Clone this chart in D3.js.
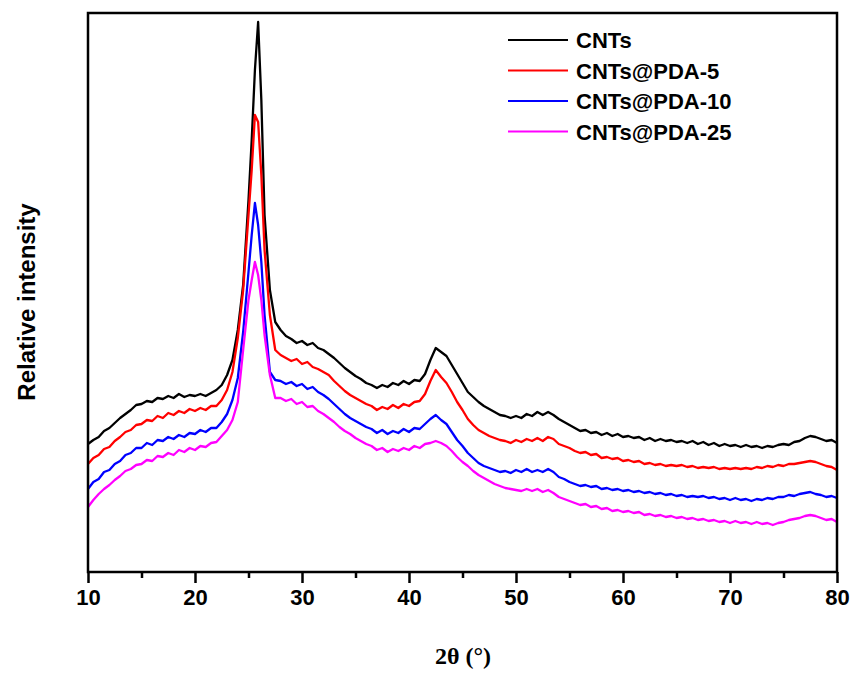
<html>
<head>
    <script src="https://d3js.org/d3.v7.min.js"></script>
    <style>
        body { margin: 0; background: #ffffff; }
        svg { display: block; }
    </style>
</head>
<body>
<svg id="chart"></svg>
<script>

    /* 2theta grid of the scans (degrees) */
    var angles = [10, 10.5, 11, 11.5, 12, 12.5, 13, 13.5, 14, 14.5, 15, 15.5, 16, 16.5, 17, 17.5, 18, 18.5, 19, 19.5,
        20, 20.5, 21, 21.5, 22, 22.5, 23, 23.5, 24, 24.5,
        25, 25.3, 25.6, 25.9, 26.2, 26.5,
        27, 27.5, 28, 28.5, 29, 29.5, 30, 30.5, 31, 31.5, 32, 32.5, 33, 33.5, 34, 34.5, 35, 35.5, 36, 36.5, 37, 37.5,
        38, 38.5, 39, 39.5, 40, 40.5, 41, 41.5, 42, 42.5, 43, 43.5, 44, 44.5, 45, 45.5, 46, 46.5, 47, 47.5,
        48, 48.5, 49, 49.5, 50, 50.5, 51, 51.5, 52, 52.5, 53, 53.5, 54, 54.5, 55, 55.5, 56, 56.5, 57, 57.5,
        58, 58.5, 59, 59.5, 60, 60.5, 61, 61.5, 62, 62.5, 63, 63.5, 64, 64.5, 65, 65.5, 66, 66.5, 67, 67.5,
        68, 68.5, 69, 69.5, 70, 70.5, 71, 71.5, 72, 72.5, 73, 73.5, 74, 74.5, 75, 75.5, 76, 76.5, 77, 77.5,
        78, 78.5, 79, 79.5, 80];

    /* intensidades relativas (ya desplazadas como en la figura) */
    var cnts = [156, 160, 163, 169, 172, 177, 182, 186, 190, 195, 196, 199, 198, 202, 201, 204, 202, 206, 203, 205,
        204, 206, 204, 207, 210, 215, 225, 240, 270, 315,
        400, 460, 530, 578, 500, 385,
        310, 278, 270, 264, 261, 257, 259, 255, 257, 252, 250, 246, 242, 237, 232, 228, 224, 221, 217, 215, 212, 215,
        213, 217, 215, 219, 216, 220, 219, 226, 240, 252, 248, 244, 235, 226, 217, 208, 203, 198, 194, 191,
        188, 185, 184, 182, 184, 182, 186, 184, 188, 185, 188, 185, 181, 178, 175, 172, 169, 170, 167, 168,
        165, 167, 164, 166, 163, 164, 162, 163, 160, 162, 159, 161, 159, 160, 158, 159, 157, 159, 156, 158,
        155, 157, 154, 156, 154, 155, 153, 155, 153, 154, 152, 154, 153, 155, 156, 155, 158, 159, 162, 164,
        163, 161, 159, 160, 157];

    var pda5 = [136, 142, 145, 151, 153, 159, 163, 168, 170, 175, 176, 180, 179, 184, 182, 187, 185, 189, 187, 191,
        189, 192, 190, 194, 194, 200, 210, 228, 262, 310,
        385, 430, 485, 478, 425, 350,
        285, 250, 245, 242, 239, 241, 236, 238, 233, 231, 228, 225, 219, 214, 209, 205, 202, 199, 196, 194, 190, 193,
        191, 195, 192, 196, 194, 198, 199, 206, 219, 230, 223, 217, 208, 198, 190, 181, 175, 170, 167, 164,
        162, 160, 159, 157, 160, 158, 161, 159, 162, 159, 163, 161, 156, 154, 152, 149, 147, 148, 145, 146,
        142, 143, 141, 142, 139, 140, 138, 139, 136, 137, 135, 136, 134, 135, 134, 135, 133, 134, 132, 133,
        132, 133, 131, 132, 131, 132, 131, 132, 131, 133, 132, 134, 133, 135, 134, 136, 136, 137, 138, 139,
        138, 136, 134, 133, 130];

    var pda10 = [111, 118, 121, 128, 130, 136, 139, 145, 147, 152, 152, 157, 155, 160, 159, 163, 161, 165, 163, 167,
        166, 170, 168, 172, 172, 178, 186, 200, 222, 268,
        328, 365, 397, 375, 338, 285,
        228, 220, 219, 216, 218, 214, 216, 211, 213, 208, 205, 201, 196, 191, 186, 182, 179, 176, 173, 171, 167, 170,
        166, 169, 167, 171, 168, 172, 171, 176, 181, 185, 180, 176, 168, 160, 154, 147, 142, 137, 134, 132,
        130, 128, 129, 127, 130, 128, 131, 128, 130, 128, 131, 128, 123, 121, 118, 116, 114, 115, 113, 114,
        111, 112, 110, 111, 109, 110, 108, 109, 107, 108, 106, 107, 105, 106, 104, 105, 103, 104, 103, 104,
        102, 103, 101, 102, 100, 102, 100, 101, 99, 101, 100, 102, 101, 103, 103, 105, 104, 106, 107, 108,
        106, 105, 103, 104, 102];

    var pda25 = [93, 100, 106, 111, 115, 120, 124, 129, 131, 135, 136, 140, 139, 144, 143, 147, 145, 150, 148, 152,
        150, 154, 153, 157, 158, 164, 170, 180, 198, 250,
        300, 320, 338, 325, 300, 265,
        225, 202, 202, 199, 201, 196, 198, 193, 194, 189, 186, 182, 178, 173, 169, 166, 162, 159, 156, 154, 150, 152,
        148, 151, 149, 152, 150, 154, 152, 156, 157, 159, 157, 154, 149, 143, 138, 134, 129, 125, 122, 119,
        116, 114, 112, 111, 110, 109, 111, 109, 111, 108, 110, 107, 103, 101, 99, 97, 95, 96, 93, 94,
        91, 92, 89, 90, 88, 89, 87, 88, 85, 86, 84, 85, 83, 84, 82, 83, 81, 82, 80, 81,
        79, 80, 78, 79, 77, 79, 77, 78, 76, 78, 76, 77, 75, 77, 78, 80, 81, 82, 84, 85,
        84, 82, 80, 81, 78];

    var seriesNames = ["CNTs", "CNTs@PDA-5", "CNTs@PDA-10", "CNTs@PDA-25"];
    var seriesColors = ["#000000", "#ff0000", "#0000ff", "#ff00ff"];
    var seriesValues = [cnts, pda5, pda10, pda25];

    var xTicks = [10, 20, 30, 40, 50, 60, 70, 80];
    var xMinorTicks = [15, 25, 35, 45, 55, 65, 75];

    var width = 860, height = 675;
    var plot = {left: 88, right: 837, top: 13, bottom: 572};
    var svg = d3.select("#chart").attr("width", width).attr("height", height);

    var x = d3.scaleLinear().domain([10, 80]).range([plot.left, plot.right]);
    var y = d3.scaleLinear().domain([28, 587]).range([plot.bottom, plot.top]);

    /* las curvas */
    var line = d3.line()
        .x(function(d, i) { return x(angles[i]); })
        .y(function(d) { return y(d); });

    seriesValues.forEach(function(vals, k) {
        svg.append("path")
            .datum(vals)
            .attr("d", line)
            .attr("fill", "none")
            .attr("stroke", seriesColors[k])
            .attr("stroke-width", 2.3)
            .attr("stroke-linejoin", "round");
    });

    /* marco */
    svg.append("rect")
        .attr("x", plot.left)
        .attr("y", plot.top)
        .attr("width", plot.right - plot.left)
        .attr("height", plot.bottom - plot.top)
        .attr("fill", "none")
        .attr("stroke", "#000")
        .attr("stroke-width", 2.5);

    /* eje x, ticks hacia afuera */
    var xAxis = d3.axisBottom(x)
        .tickValues(xTicks)
        .tickSize(11)
        .tickPadding(6)
        .tickFormat(d3.format("d"));
    var gx = svg.append("g").attr("transform", "translate(0," + plot.bottom + ")").call(xAxis);
    gx.select(".domain").remove();
    gx.selectAll(".tick line").attr("stroke", "#000").attr("stroke-width", 2.5);
    gx.selectAll(".tick text")
        .attr("fill", "#000")
        .style("font-family", "'Liberation Sans', Arial, sans-serif")
        .style("font-weight", "bold")
        .style("font-size", "22px");

    var xMinor = d3.axisBottom(x).tickValues(xMinorTicks).tickSize(6).tickFormat("");
    var gxm = svg.append("g").attr("transform", "translate(0," + plot.bottom + ")").call(xMinor);
    gxm.select(".domain").remove();
    gxm.selectAll(".tick line").attr("stroke", "#000").attr("stroke-width", 2.5);

    /* titulos de ejes */
    svg.append("text")
        .attr("x", 463)
        .attr("y", 664)
        .attr("text-anchor", "middle")
        .style("font-family", "'Liberation Serif', 'Times New Roman', serif")
        .style("font-weight", "bold")
        .style("font-size", "24px")
        .text("2\u03B8 (\u00B0)");

    svg.append("text")
        .attr("transform", "translate(35,302) rotate(-90)")
        .attr("text-anchor", "middle")
        .style("font-family", "'Liberation Sans', Arial, sans-serif")
        .style("font-weight", "bold")
        .style("font-size", "24px")
        .text("Relative intensity");

    /* leyenda */
    var legend = svg.append("g");
    seriesNames.forEach(function(name, k) {
        var ly = 40 + k * 30.5;
        legend.append("line")
            .attr("x1", 508).attr("x2", 568)
            .attr("y1", ly).attr("y2", ly)
            .attr("stroke", seriesColors[k])
            .attr("stroke-width", 2);
        legend.append("text")
            .attr("x", 576)
            .attr("y", ly + 8)
            .style("font-family", "'Liberation Sans', Arial, sans-serif")
            .style("font-weight", "bold")
            .style("font-size", "22px")
            .text(name);
    });

</script>
</body>
</html>
